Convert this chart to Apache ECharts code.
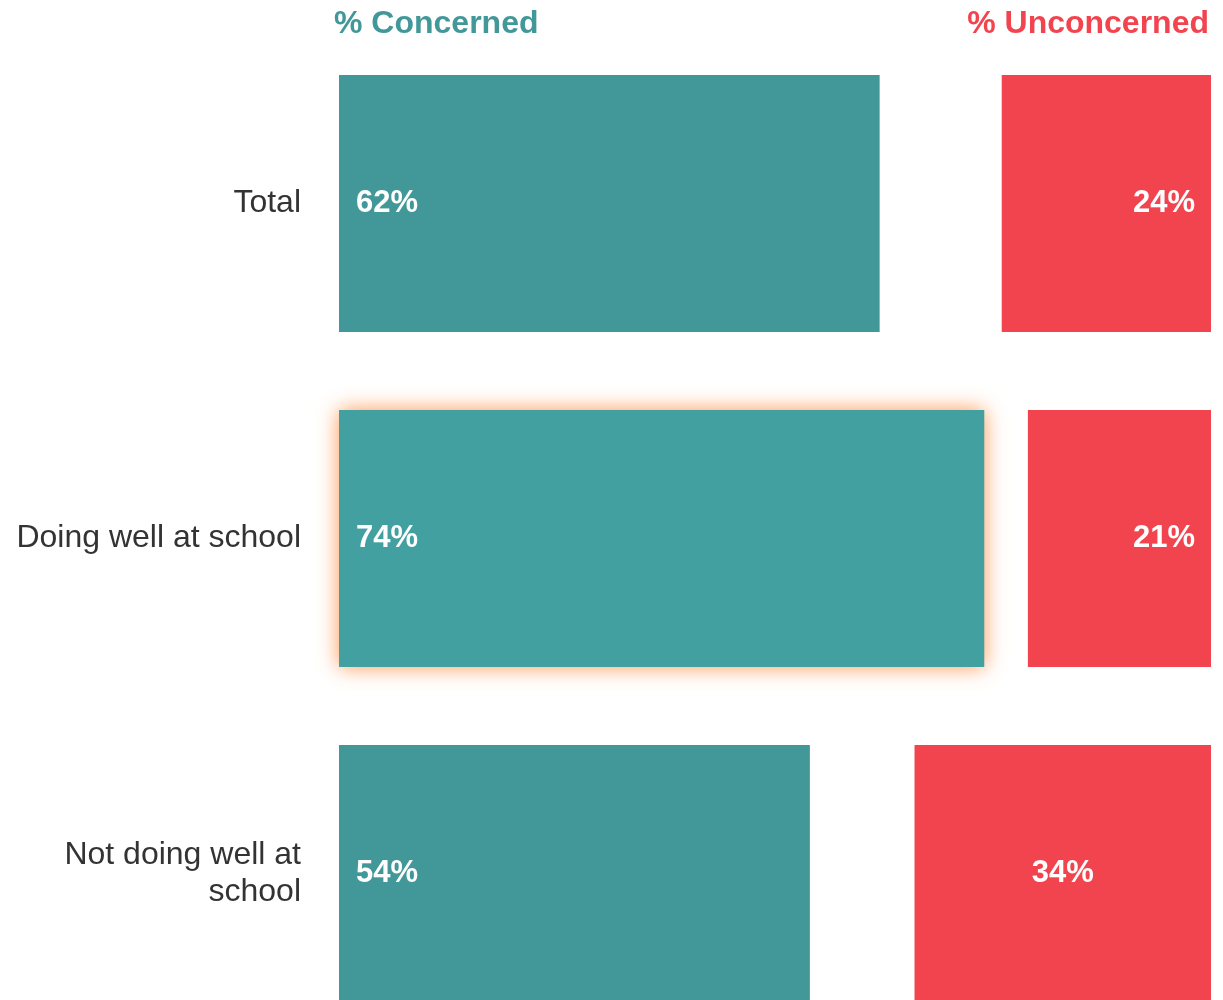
<!DOCTYPE html>
<html lang="en">
<head>
    <meta charset="UTF-8">
    <title>Concerned vs Unconcerned</title>
    <script src="https://cdn.jsdelivr.net/npm/echarts@6/dist/echarts.min.js"></script>
</head>
<body style="margin:0;background:#fff;height:1000px;overflow:hidden;">
  <!-- the bottom bar runs off the picture in the reference, so the chart is taller than the window -->
  <div id="main" style="width:1223px;height:1041px;"></div>
  <script type="text/javascript">
    var categories = ['Total', 'Doing well at school', 'Not doing well at\nschool'];
    var concerned = [62, 74, 54];
    var unconcerned = [24, 21, 34];
    var highlightIndex = 1;
    var redLabelPos = ['insideRight', 'insideRight', 'inside'];

    var teal = '#429898';
    var red = '#F2444F';

    var concernedData = concerned.map(function (v, i) {
        if (i === highlightIndex) {
            return {
                value: v,
                itemStyle: { color: '#43A0A0', shadowBlur: 20, shadowColor: 'rgba(255,150,80,1)' }
            };
        }
        return v;
    });
    var gapData = concerned.map(function (v, i) { return 100 - v - unconcerned[i]; });
    var unconcernedData = unconcerned.map(function (v, i) {
        return { value: v, label: { position: redLabelPos[i] } };
    });

    var myChart = echarts.init(document.getElementById('main'));
    var valueLabel = {
        show: true,
        color: '#fff',
        fontFamily: 'Liberation Sans',
        fontWeight: 'bold',
        fontSize: 31,
        distance: 17,
        formatter: '{c}%'
    };
    var option = {
        animation: false,
        title: [
            { text: '% Concerned', left: 329, top: 3,
              textStyle: { color: '#429898', fontFamily: 'Liberation Sans', fontWeight: 'bold', fontSize: 32 } },
            { text: '% Unconcerned', right: 9, top: 3,
              textStyle: { color: red, fontFamily: 'Liberation Sans', fontWeight: 'bold', fontSize: 32 } }
        ],
        grid: { left: 339, right: 12, top: 36, bottom: 0, containLabel: false },
        xAxis: {
            type: 'value', min: 0, max: 100, show: false
        },
        yAxis: {
            type: 'category',
            inverse: true,
            data: categories,
            axisLine: { show: false },
            axisTick: { show: false },
            axisLabel: {
                margin: 38,
                color: '#333',
                fontFamily: 'Liberation Sans',
                fontSize: 32,
                lineHeight: 37,
                align: 'right'
            }
        },
        series: [
            {
                name: 'Concerned', type: 'bar', stack: 'all', barWidth: 257,
                itemStyle: { color: teal },
                label: Object.assign({}, valueLabel, { position: 'insideLeft' }),
                data: concernedData
            },
            {
                name: 'gap', type: 'bar', stack: 'all', barWidth: 257,
                itemStyle: { color: 'rgba(0,0,0,0)' },
                silent: true,
                data: gapData
            },
            {
                name: 'Unconcerned', type: 'bar', stack: 'all', barWidth: 257,
                itemStyle: { color: red },
                label: Object.assign({}, valueLabel, { position: 'insideRight', distance: 16 }),
                data: unconcernedData
            }
        ]
    };
    myChart.setOption(option);
  </script>
</body>
</html>
